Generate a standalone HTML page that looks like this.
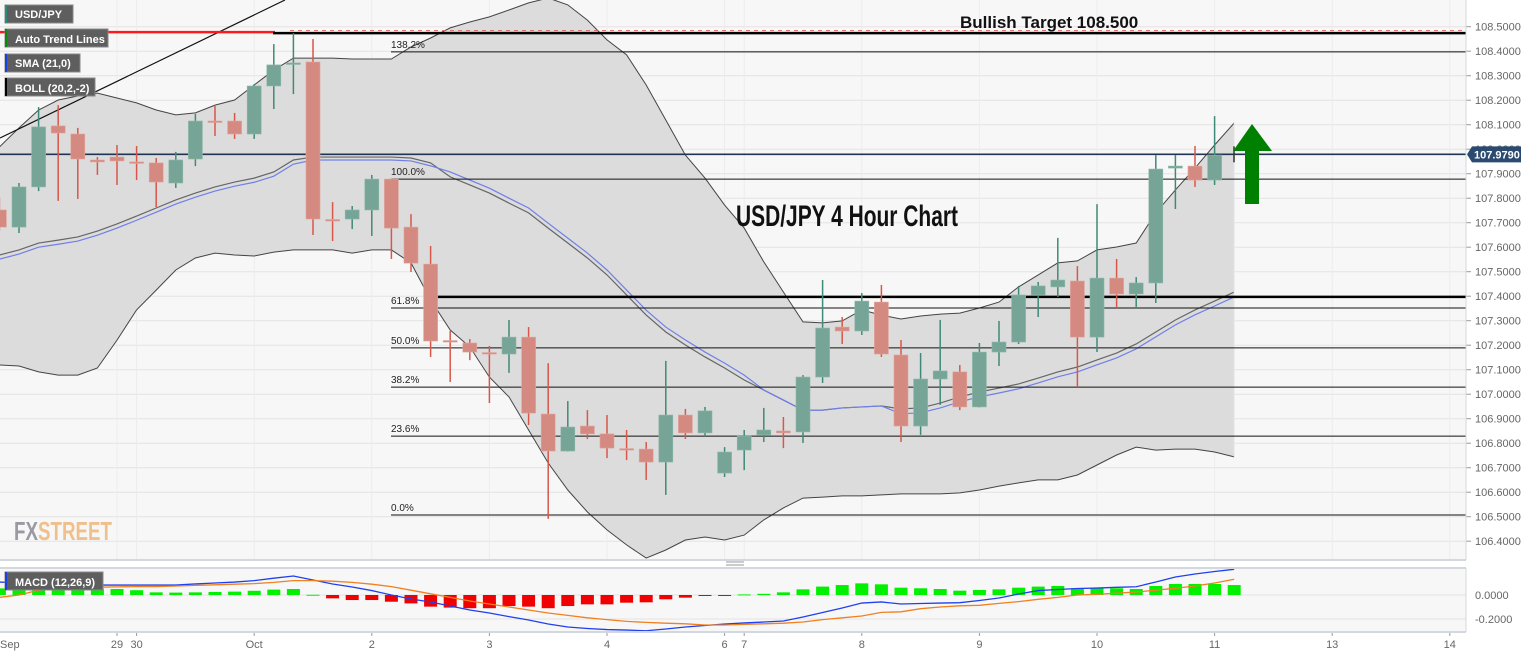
<!DOCTYPE html>
<html><head><meta charset="utf-8">
<style>
html,body{margin:0;padding:0;background:#fff;}
svg{display:block;font-family:"Liberation Sans",sans-serif;}
.lg{font:bold 11px "Liberation Sans",sans-serif;fill:#fff;}
.ax{font:11px "Liberation Sans",sans-serif;fill:#666;}
.fib{font:10px "Liberation Sans",sans-serif;fill:#222;}
</style></head>
<body>
<svg id="chart" width="1536" height="655" viewBox="0 0 1536 655">
  <rect x="0" y="0" width="1466" height="560" fill="#f7f7f7"/>
  <rect x="0" y="568" width="1466" height="64" fill="#f7f7f7"/>
  <g id="grid"></g>
  <g id="band"></g>
  <g id="levels"></g>
  <g id="candles"></g>
  <g id="macd"></g>
  <g id="axes"></g>
  <line x1="1466" y1="0" x2="1466" y2="560" stroke="#d3d7df"/>
  <line x1="0" y1="560" x2="1466" y2="560" stroke="#d3d7df" stroke-width="2"/>
  <line x1="0" y1="568" x2="1466" y2="568" stroke="#d3d7df" stroke-width="2"/>
  <line x1="0" y1="632" x2="1466" y2="632" stroke="#d3d7df" stroke-width="2"/>
  <line x1="1466" y1="568" x2="1466" y2="632" stroke="#d3d7df"/>
  <g><line x1="726" y1="562" x2="744" y2="562" stroke="#999"/><line x1="726" y1="565" x2="744" y2="565" stroke="#999"/></g>

  <text x="960" y="28" style="font:bold 17px 'Liberation Sans',sans-serif" fill="#111">Bullish Target 108.500</text>
  <text x="736" y="226" style="font:bold 30px 'Liberation Sans Narrow','Liberation Sans',sans-serif" fill="#111" textLength="222" lengthAdjust="spacingAndGlyphs">USD/JPY 4 Hour Chart</text>
  <g>
    <rect x="1245" y="150" width="14" height="54" fill="#008000"/>
    <polygon points="1233,151 1252,124 1272,151" fill="#008000"/>
  </g>
  <g>
    <text x="14" y="540" style="font:bold 26px 'Liberation Sans Narrow','Liberation Sans',sans-serif" textLength="98" lengthAdjust="spacingAndGlyphs"><tspan fill="#9a9aa2">FX</tspan><tspan fill="#f0c08c">STREET</tspan></text>
  </g>

  <g><rect x="5" y="5" width="68" height="18" fill="#5e5e5e" stroke="#888"/><rect x="5" y="5" width="2" height="18" fill="#2a8a78"/><text class="lg" x="15" y="18">USD/JPY</text></g>
  <g><rect x="5" y="29" width="103" height="18" fill="#5e5e5e" stroke="#888"/><rect x="5" y="29" width="2" height="18" fill="#0a8a0a"/><text class="lg" x="15" y="43">Auto Trend Lines</text></g>
  <g><rect x="5" y="54" width="75" height="18" fill="#5e5e5e" stroke="#888"/><rect x="5" y="54" width="2" height="18" fill="#1b3fe0"/><text class="lg" x="15" y="67">SMA (21,0)</text></g>
  <g><rect x="5" y="78" width="90" height="18" fill="#5e5e5e" stroke="#888"/><rect x="5" y="78" width="2" height="18" fill="#000"/><text class="lg" x="15" y="92">BOLL (20,2,-2)</text></g>
  <g><rect x="5" y="572" width="98" height="18" fill="#5e5e5e" stroke="#888"/><rect x="5" y="572" width="2" height="18" fill="#1b3fe0"/><text class="lg" x="15" y="586">MACD (12,26,9)</text></g>
</svg>
<script>
// ---- data ----
const opens  = [107.752,107.682,107.846,108.095,108.062,107.956,107.968,107.948,107.944,107.862,107.960,108.115,108.115,108.062,108.258,108.350,108.356,107.713,107.715,107.752,107.878,107.682,107.531,107.219,107.209,107.170,107.164,107.233,106.919,106.768,106.870,106.838,106.778,106.776,106.723,106.915,106.842,106.678,106.772,106.834,106.850,106.846,107.070,107.274,107.258,107.376,107.160,106.870,107.062,107.091,106.948,107.172,107.213,107.405,107.438,107.462,107.233,107.474,107.409,107.454,107.923,107.931,107.874];
const highs  = [107.805,107.862,108.172,108.180,108.087,107.968,108.017,108.013,107.964,107.989,108.144,108.176,108.148,108.266,108.429,108.474,108.450,107.784,107.768,107.895,107.880,107.735,107.605,107.258,107.225,107.197,107.303,107.274,107.127,106.972,106.935,106.915,106.854,106.805,107.136,106.940,106.948,106.784,106.854,106.944,106.907,107.078,107.466,107.315,107.413,107.446,107.221,107.168,107.303,107.119,107.209,107.299,107.442,107.458,107.638,107.523,107.776,107.552,107.478,107.976,107.976,108.013,108.135];
const lows   = [107.666,107.658,107.829,107.789,107.797,107.895,107.854,107.874,107.764,107.842,107.931,108.054,108.042,108.042,108.164,108.225,107.650,107.625,107.674,107.646,107.552,107.499,107.152,107.050,107.139,106.964,107.087,106.874,106.491,106.766,106.817,106.739,106.731,106.650,106.589,106.817,106.829,106.662,106.690,106.805,106.780,106.801,107.046,107.205,107.242,107.152,106.805,106.834,106.956,106.935,106.946,107.115,107.205,107.315,107.397,107.029,107.172,107.356,107.356,107.372,107.756,107.846,107.854];
const closes = [107.682,107.846,108.091,108.066,107.960,107.948,107.952,107.946,107.866,107.956,108.115,108.113,108.062,108.258,108.344,108.352,107.715,107.711,107.752,107.878,107.678,107.535,107.217,107.217,107.172,107.168,107.233,106.923,106.768,106.866,106.838,106.780,106.776,106.723,106.915,106.842,106.932,106.764,106.829,106.854,106.842,107.070,107.270,107.258,107.380,107.164,106.870,107.062,107.095,106.948,107.172,107.213,107.405,107.442,107.466,107.233,107.474,107.409,107.454,107.919,107.931,107.874,107.976];
const bollUpper = [108.009,108.087,108.160,108.201,108.217,108.229,108.209,108.189,108.160,108.140,108.148,108.180,108.201,108.262,108.323,108.372,108.372,108.372,108.368,108.368,108.368,108.417,108.454,108.495,108.519,108.540,108.568,108.597,108.617,108.589,108.527,108.446,108.385,108.262,108.119,107.976,107.882,107.772,107.678,107.540,107.417,107.295,107.291,107.299,107.344,107.323,107.307,107.319,107.327,107.331,107.352,107.376,107.438,107.487,107.536,107.544,107.589,107.601,107.617,107.740,107.834,107.923,108.017,108.107];
const bollMiddle = [107.568,107.589,107.617,107.629,107.642,107.666,107.695,107.727,107.760,107.793,107.821,107.846,107.866,107.882,107.907,107.956,107.968,107.968,107.968,107.968,107.968,107.964,107.944,107.887,107.854,107.821,107.780,107.740,107.678,107.617,107.556,107.487,107.405,107.323,107.254,107.201,107.152,107.107,107.058,107.017,106.976,106.935,106.935,106.944,106.948,106.952,106.940,106.944,106.964,106.989,107.009,107.025,107.042,107.066,107.091,107.111,107.140,107.168,107.205,107.254,107.303,107.344,107.380,107.417];
const bollLower = [107.119,107.115,107.091,107.078,107.078,107.107,107.221,107.344,107.425,107.507,107.556,107.576,107.568,107.564,107.580,107.589,107.589,107.589,107.576,107.589,107.589,107.536,107.385,107.262,107.193,107.070,106.989,106.854,106.719,106.609,106.519,106.446,106.385,106.331,106.364,106.405,106.417,106.405,106.425,106.487,106.536,106.576,106.580,106.585,106.585,106.589,106.593,106.593,106.593,106.597,106.609,106.625,106.638,106.650,106.650,106.670,106.711,106.752,106.784,106.772,106.776,106.776,106.764,106.744];
const sma21 = [107.551,107.572,107.600,107.612,107.625,107.649,107.678,107.710,107.743,107.776,107.804,107.829,107.849,107.865,107.890,107.939,107.956,107.956,107.956,107.956,107.956,107.952,107.932,107.907,107.874,107.841,107.800,107.760,107.698,107.637,107.576,107.507,107.425,107.343,107.274,107.221,107.172,107.127,107.078,107.017,106.976,106.935,106.935,106.944,106.948,106.952,106.920,106.924,106.944,106.969,106.989,107.005,107.022,107.046,107.071,107.091,107.120,107.148,107.185,107.234,107.283,107.324,107.360,107.397];
const macdHist = [0.055,0.055,0.058,0.058,0.055,0.052,0.050,0.040,0.022,0.020,0.022,0.025,0.028,0.035,0.045,0.050,0.002,-0.028,-0.042,-0.042,-0.056,-0.070,-0.097,-0.105,-0.110,-0.110,-0.092,-0.097,-0.110,-0.092,-0.078,-0.078,-0.064,-0.061,-0.036,-0.022,-0.006,-0.003,0.005,0.010,0.022,0.047,0.070,0.083,0.097,0.089,0.061,0.056,0.050,0.036,0.042,0.047,0.061,0.070,0.075,0.056,0.056,0.056,0.050,0.075,0.092,0.092,0.092,0.083];
const macdLine = [0.108,0.100,0.100,0.083,0.083,0.083,0.083,0.083,0.083,0.083,0.092,0.100,0.108,0.120,0.140,0.158,0.125,0.092,0.067,0.037,0.000,-0.033,-0.058,-0.092,-0.125,-0.150,-0.180,-0.208,-0.242,-0.267,-0.279,-0.288,-0.292,-0.298,-0.283,-0.267,-0.254,-0.242,-0.233,-0.225,-0.217,-0.183,-0.146,-0.108,-0.067,-0.058,-0.075,-0.071,-0.067,-0.064,-0.046,-0.025,0.008,0.037,0.046,0.054,0.058,0.064,0.069,0.108,0.150,0.175,0.196,0.214];
const signalLine = [-0.020,0.000,0.040,0.050,0.060,0.065,0.068,0.070,0.070,0.075,0.080,0.085,0.090,0.095,0.105,0.120,0.120,0.115,0.105,0.090,0.070,0.040,0.010,-0.020,-0.050,-0.075,-0.100,-0.125,-0.150,-0.170,-0.190,-0.205,-0.220,-0.228,-0.235,-0.240,-0.250,-0.250,-0.245,-0.240,-0.235,-0.225,-0.205,-0.190,-0.175,-0.145,-0.140,-0.114,-0.100,-0.090,-0.086,-0.070,-0.055,-0.036,-0.020,0.000,0.006,0.015,0.025,0.040,0.056,0.075,0.100,0.131];
const fibLabels = ["138.2%","100.0%","61.8%","50.0%","38.2%","23.6%","0.0%"];
const fibPrices = [108.397,107.878,107.352,107.189,107.029,106.829,106.507];
const priceTicks = [108.5,108.4,108.3,108.2,108.1,108.0,107.9,107.8,107.7,107.6,107.5,107.4,107.3,107.2,107.1,107.0,106.9,106.8,106.7,106.6,106.5,106.4];
const macdTicks = [0.0,-0.2];
const dateLabels = ["Sep","29","30","Oct","2","3","4","6","7","8","9","10","11","13","14"];
const dateSlots = [0,6,7,13,19,25,31,37,38,44,50,56,62,68,74];
const targetPrice = 108.474;
const resistancePrice = 107.397;
const lastPrice = 107.979;

// ---- axes ----
const xOf = i => -0.6 + 19.6 * i;
const yP = p => 26.7 + (108.5 - p) * 245;
const yM = v => 595 - v * 120;
const NS = "http://www.w3.org/2000/svg";
function mk(tag, attrs, parent) {
  const el = document.createElementNS(NS, tag);
  for (const k in attrs) el.setAttribute(k, attrs[k]);
  parent.appendChild(el);
  return el;
}
const grid = document.getElementById('grid');
const band = document.getElementById('band');
const levels = document.getElementById('levels');
const cg = document.getElementById('candles');
const mg = document.getElementById('macd');
const ag = document.getElementById('axes');

priceTicks.forEach(p => {
  const y = yP(p);
  const l = mk('line', {x1: 0, x2: 1466, y1: y, y2: y, stroke: '#e3e3e3'}, grid);
  
  
  const t = mk('line', {x1: 1466, x2: 1471, y1: y, y2: y, stroke: '#999'}, ag);
  
  
  const tx = mk('text', {x: 1475, y: y + 4, class: 'ax'}, ag);
  tx.textContent = p.toFixed(4);
  
  
});
dateLabels.forEach((d, k) => {
  const x = xOf(dateSlots[k]);
  const g = mk('line', {x1: x, x2: x, y1: 0, y2: 560, stroke: '#ececec'}, grid);
  
  
  const t = mk('line', {x1: x, x2: x, y1: 632, y2: 636, stroke: '#999'}, ag);
  
  
  const tx = mk('text', {x: k === 0 ? 0 : x, y: 648, class: 'ax', 'text-anchor': k === 0 ? 'start' : 'middle'}, ag);
  tx.textContent = d;
  
  
});
macdTicks.forEach(v => {
  const y = yM(v);
  const l = mk('line', {x1: 0, x2: 1466, y1: y, y2: y, stroke: '#e3e3e3'}, grid);
  
  
  const tx = mk('text', {x: 1475, y: y + 4, class: 'ax'}, ag);
  tx.textContent = v.toFixed(4);
  
  
});

// ---- bollinger band ----
const up = bollUpper.map((v, i) => xOf(i).toFixed(1) + ',' + yP(v).toFixed(1));
const lo = bollLower.map((v, i) => xOf(i).toFixed(1) + ',' + yP(v).toFixed(1));
const fill = mk('polygon', {points: up.concat(lo.slice().reverse()).join(' '), fill: '#dcdcdc'}, band);


const bu = mk('polyline', {points: up.join(' '), fill: 'none', stroke: '#444', 'stroke-width': 1}, band);


const bl = mk('polyline', {points: lo.join(' '), fill: 'none', stroke: '#444', 'stroke-width': 1}, band);


const bm = mk('polyline', {points: bollMiddle.map((v, i) => xOf(i) + ',' + yP(v)).join(' '), fill: 'none', stroke: '#666', 'stroke-width': 1.2}, band);


const sm = mk('polyline', {points: sma21.map((v, i) => xOf(i) + ',' + yP(v)).join(' '), fill: 'none', stroke: '#6f7fe8', 'stroke-width': 1.2}, band);


const edge = mk('line', {x1: xOf(63), x2: xOf(63), y1: yP(bollUpper[63]), y2: yP(bollLower[63]), stroke: '#e8e8e8'}, band);



// ---- levels ----
const tl = mk('line', {x1: 0, y1: 138, x2: 285, y2: 0, stroke: '#111', 'stroke-width': 1.2}, levels);


const rl = mk('line', {x1: 0, x2: 275, y1: yP(targetPrice) - 1, y2: yP(targetPrice) - 1, stroke: '#ff1a1a', 'stroke-width': 2.5}, levels);


const rd = mk('line', {x1: 290, x2: 1466, y1: yP(targetPrice) - 2.5, y2: yP(targetPrice) - 2.5, stroke: '#e06060', 'stroke-width': 1, 'stroke-dasharray': '4,4'}, levels);


const tg = mk('line', {x1: 273, x2: 1466, y1: yP(targetPrice), y2: yP(targetPrice), stroke: '#000', 'stroke-width': 2.5}, levels);


fibPrices.forEach((p, k) => {
  const y = yP(p);
  const l = mk('line', {x1: 391, x2: 1466, y1: y, y2: y, stroke: '#111', 'stroke-width': 1}, levels);
  
  
  const t = mk('text', {x: 391, y: y - 4, class: 'fib'}, levels);
  t.textContent = fibLabels[k];
  
  
});
const rs = mk('line', {x1: 430, x2: 1466, y1: yP(resistancePrice), y2: yP(resistancePrice), stroke: '#000', 'stroke-width': 2.5}, levels);


const cp = mk('line', {x1: 0, x2: 1466, y1: yP(lastPrice), y2: yP(lastPrice), stroke: '#1f3552', 'stroke-width': 1.6}, levels);


const cm = mk('line', {x1: 1234, x2: 1234, y1: yP(lastPrice) - 8, y2: yP(lastPrice) + 8, stroke: '#333', 'stroke-width': 1.5}, levels);


const cy = yP(lastPrice);
const cb = mk('polygon', {points: `1467,${cy} 1472,${cy-8} 1521,${cy-8} 1521,${cy+8} 1472,${cy+8}`, fill: '#2b4a70'}, ag);


const ct = mk('text', {x: 1474, y: cy + 4, style: 'font:bold 11px "Liberation Sans",sans-serif', fill: '#fff'}, ag);
ct.textContent = lastPrice.toFixed(4);



// ---- candles ----
opens.forEach((o, i) => {
  const c = closes[i], x = xOf(i);
  const bull = c >= o;
  const wick = mk('line', {x1: x, x2: x, y1: yP(highs[i]), y2: yP(lows[i]), stroke: bull ? '#3f8a76' : '#d9574a', 'stroke-width': 1.5}, cg);
  
  
  const top = yP(Math.max(o, c)), h = Math.max(1.5, Math.abs(yP(o) - yP(c)));
  const body = mk('rect', {x: x - 7, y: top, width: 14, height: h, fill: bull ? '#76a597' : '#d48a80', stroke: bull ? '#8fb8ab' : '#e0a59c', 'stroke-width': 0.6}, cg);
  
  
});

// ---- macd ----
macdHist.forEach((v, i) => {
  const x = xOf(i), y0 = yM(0), y1 = yM(v);
  const r = mk('rect', {x: x - 6.5, y: Math.min(y0, y1), width: 13, height: Math.max(1, Math.abs(y1 - y0)), fill: v >= 0 ? '#00f000' : '#f00000'}, mg);
  
  
});
const ml = mk('polyline', {points: macdLine.map((v, i) => xOf(i) + ',' + yM(v)).join(' '), fill: 'none', stroke: '#2040f0', 'stroke-width': 1.3}, mg);


const sl = mk('polyline', {points: signalLine.map((v, i) => xOf(i) + ',' + yM(v)).join(' '), fill: 'none', stroke: '#f08020', 'stroke-width': 1.3}, mg);


</script>
</body></html>
